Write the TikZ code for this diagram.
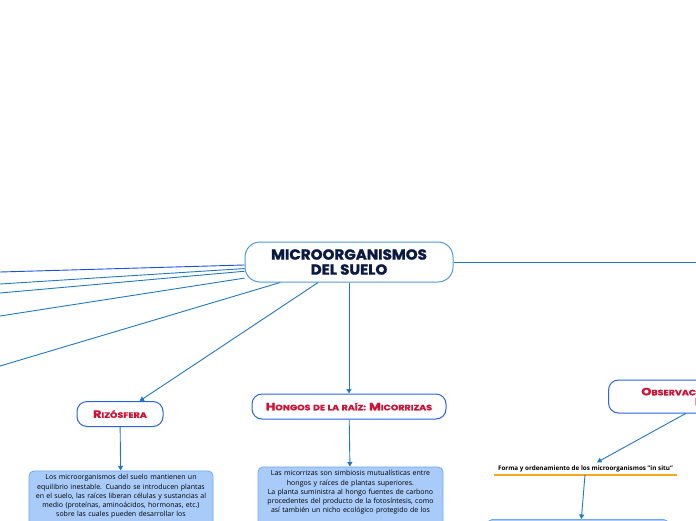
\documentclass[tikz,border=0pt]{standalone}
\usepackage{fontspec}
\setmainfont{Open Sans}
\newfontfamily\titlefont[BoldFeatures={FakeBold=1.6,FakeStretch=1.04}]{Poppins}
\newfontfamily\lblfont[FakeStretch=1.22,BoldFeatures={FakeBold=1.2,FakeStretch=1.22}]{Poppins}
\usetikzlibrary{arrows.meta}
\definecolor{conncol}{HTML}{1F78C1}
\definecolor{conntop}{HTML}{1A4FE6}
\definecolor{cborder}{HTML}{4E9AD6}
\definecolor{lborder}{HTML}{2563E8}
\definecolor{lred}{HTML}{CC1236}
\definecolor{navy}{HTML}{0B1A42}
\definecolor{boxfill}{HTML}{A9CBF9}
\definecolor{boxline}{HTML}{72A9EE}
\definecolor{orng}{HTML}{F5A623}
\newcommand{\bigsc}[1]{{\fontsize{10.5}{12}\selectfont #1}}
\newcommand{\smsc}[1]{{\fontsize{7.8}{12}\selectfont #1}}
\begin{document}
\begin{tikzpicture}[x=1pt,y=-1pt,
  connline/.style={draw=conncol, line width=0.9pt},
  arr/.style={connline, -{Triangle[length=4.5pt,width=5pt]}},
  central/.style={draw=cborder, line width=1pt, fill=white, rounded corners=15pt,
    minimum width=208pt, minimum height=40pt, align=center,
    font=\titlefont\bfseries\fontsize{14.5}{15}\selectfont, text=navy, inner sep=0pt},
  lblnode/.style={draw=lborder, line width=1pt, fill=white, rounded corners=10pt,
    text=lred, font=\lblfont\bfseries, inner sep=0pt, align=center},
  textbox/.style={draw=boxline, line width=0.8pt, fill=boxfill, rounded corners=5pt,
    anchor=north, align=center, font=\fontsize{7}{9.3}\selectfont,
    inner xsep=2pt, inner ysep=3.5pt, text depth=60pt},
]
\useasboundingbox (0,0) rectangle (696,520);

% free ends of the connectors
\coordinate (l1) at (0,272);
\coordinate (l2) at (0,284);
\coordinate (l3) at (0,293);
\coordinate (l4) at (0,316);
\coordinate (l5) at (0,366);
\coordinate (r1) at (696,262);

% nodes
\node[central] (c) at (349,262) {MICROORGANISMOS\\DEL SUELO};
\node[lblnode, minimum width=86pt, minimum height=25pt] (riz) at (120,414)
  {\bigsc{R}\smsc{IZÓSFERA}};
\node[lblnode, minimum width=194pt, minimum height=25pt] (hon) at (349,406.5)
  {\bigsc{H}\smsc{ONGOS}\hspace{2.5pt}\smsc{DE}\hspace{2.5pt}\smsc{LA}\hspace{2.5pt}\smsc{RAÍZ:}\hspace{3pt}\bigsc{M}\smsc{ICORRIZAS}};
\node[lblnode, minimum width=216pt, minimum height=33pt, anchor=west] (obs) at (608,396.5)
  {\bigsc{O}\smsc{BSERVACIÓN MICROSCÓPICA}\\[-2pt]\bigsc{D}\smsc{IRECTA}};

\node[textbox, text width=180pt] (b1) at (121,470.5)
  {Los microorganismos del suelo mantienen un\\
   equilibrio inestable. Cuando se introducen plantas\\
   en el suelo, las raíces liberan células y sustancias al\\
   medio (proteínas, aminoácidos, hormonas, etc.)\\
   sobre las cuales pueden desarrollar los};
\node[textbox, text width=181pt] (b2) at (350.5,466.5)
  {Las micorrizas son simbiosis mutualísticas entre\\
   hongos y raíces de plantas superiores.\\
   La planta suministra al hongo fuentes de carbono\\
   procedentes del producto de la fotosíntesis, como\\
   así también un nicho ecológico protegido de los};

\node[font=\bfseries\fontsize{6.3}{7}\selectfont, minimum width=183pt, inner xsep=0pt,
  inner ysep=3pt, anchor=south] (forma) at (585.5,475)
  {Forma y ordenamiento de los microorganismos "in situ"};
\draw[orng, line width=1.5pt] (forma.south west) -- (forma.south east);

\node[draw=boxline, line width=0.8pt, fill=boxfill, rounded corners=5pt,
  minimum width=181pt, minimum height=80pt, anchor=north] (b3) at (578,519) {};

% connectors
\draw[connline, draw=conntop] (c) -- (l1);
\draw[connline] (c) -- (l2);
\draw[connline] (c) -- (l3);
\draw[connline] (c) -- (l4);
\draw[connline] (c) -- (l5);
\draw[connline] (c) -- (r1);
\draw[arr] (c) -- (riz);
\draw[arr] (c) -- (hon);
\draw[arr] (riz) -- (b1);
\draw[arr] (hon) -- (b2);
\draw[arr] (obs) -- (forma);
\draw[arr] (forma) -- (b3);
\end{tikzpicture}
\end{document}
